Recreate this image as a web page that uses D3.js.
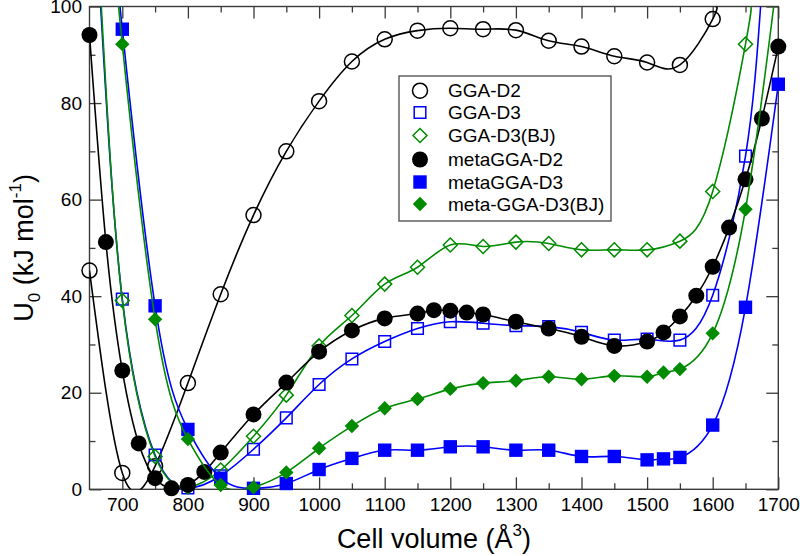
<!DOCTYPE html>
<html>
<head>
<meta charset="utf-8">
<script src="https://cdn.jsdelivr.net/npm/d3@7"></script>
<style>
  html, body { margin: 0; padding: 0; background: #fff; }
  svg { display: block; font-family: "Liberation Sans", Arial, Helvetica, sans-serif; }
</style>
</head>
<body>
<svg id="chart" width="800" height="556"></svg>
<script>
// ---------------- DATA ----------------
const seriesNames = ["GGA-D2", "GGA-D3", "GGA-D3(BJ)", "metaGGA-D2", "metaGGA-D3", "meta-GGA-D3(BJ)"];

const ggaD2Vol = [650,700,750,800,850,900,950,1000,1050,1100,1150,1200,1250,1300,1350,1400,1450,1500,1550,1600];
const ggaD2U   = [45.3,3.4,4.8,22.0,40.4,56.8,70.0,80.4,88.6,93.2,95.0,95.5,95.3,95.1,92.9,91.7,89.7,88.4,87.9,97.4];

const ggaD3Vol = [700,750,800,850,900,950,1000,1050,1100,1150,1200,1250,1300,1350,1400,1450,1500,1550,1600,1650];
const ggaD3U   = [39.4,7.1,0.3,2.8,8.3,14.8,21.7,27.0,30.6,33.3,34.7,34.4,33.9,33.7,32.5,30.9,31.1,30.9,40.2,69.0];

const ggaD3BJVol = [700,750,800,850,900,950,1000,1050,1100,1150,1200,1250,1300,1350,1400,1450,1500,1550,1600,1650];
const ggaD3BJU   = [39.1,6.8,0.5,4.0,11.0,19.5,29.7,36.0,42.5,46.0,50.6,50.3,51.2,50.9,49.6,49.6,49.6,51.4,61.7,92.2];

const metaD2Vol = [650,675,700,725,750,775,800,825,850,900,950,1000,1050,1100,1150,1175,1200,1225,1250,1300,1350,1400,1450,1500,1525,1550,1575,1600,1625,1650,1675,1700];
const metaD2U   = [94.1,51.2,24.6,9.5,2.3,0.2,0.9,3.6,7.6,15.5,22.1,28.5,32.9,35.4,36.4,37.1,37.0,36.6,36.2,34.7,33.3,31.6,29.7,30.6,32.5,35.8,40.1,46.1,54.2,64.2,76.8,91.7];

const metaD3Vol = [700,750,800,850,900,950,1000,1050,1100,1150,1200,1250,1300,1350,1400,1450,1500,1525,1550,1600,1650,1700];
const metaD3U   = [95.3,38.0,12.4,2.3,0.2,1.2,4.1,6.4,8.1,8.1,8.8,8.8,8.1,8.1,6.8,6.8,6.1,6.3,6.6,13.3,37.7,83.9];

const metaD3BJVol = [700,750,800,850,900,950,1000,1050,1100,1150,1200,1250,1300,1350,1400,1450,1500,1525,1550,1600,1650];
const metaD3BJU   = [92.2,35.2,10.4,0.9,0.4,3.5,8.5,13.1,16.8,18.7,20.8,22.0,22.5,23.3,22.8,23.5,23.3,24.2,24.9,32.3,58.0];

// volumes where each fitted curve leaves the plot through the top edge (start, end); null = none
const ggaD2FitEnds    = [null, 1604];
const ggaD3FitEnds    = [667, 1673];
const ggaD3BJFitEnds  = [668, 1658];
const metaD2FitEnds   = [null, null];
const metaD3FitEnds   = [697, null];
const metaD3BJFitEnds = [696, 1693];

const xMajorTicks = [700,800,900,1000,1100,1200,1300,1400,1500,1600,1700];
const xMinorTicks = [750,850,950,1050,1150,1250,1350,1450,1550,1650];
const yMajorTicks = [0,20,40,60,80,100];
const yMinorTicks = [10,30,50,70,90];

// ---------------- CHART ----------------
const GREEN = "#008b00", BLUE = "#0000ff", BLACK = "#000000";
const series = [
  {name: seriesNames[0], vol: ggaD2Vol,    u: ggaD2U,    ends: ggaD2FitEnds,    color: BLACK, shape: "circle",  filled: false},
  {name: seriesNames[1], vol: ggaD3Vol,    u: ggaD3U,    ends: ggaD3FitEnds,    color: BLUE,  shape: "square",  filled: false},
  {name: seriesNames[2], vol: ggaD3BJVol,  u: ggaD3BJU,  ends: ggaD3BJFitEnds,  color: GREEN, shape: "diamond", filled: false},
  {name: seriesNames[3], vol: metaD2Vol,   u: metaD2U,   ends: metaD2FitEnds,   color: BLACK, shape: "circle",  filled: true},
  {name: seriesNames[4], vol: metaD3Vol,   u: metaD3U,   ends: metaD3FitEnds,   color: BLUE,  shape: "square",  filled: true},
  {name: seriesNames[5], vol: metaD3BJVol, u: metaD3BJU, ends: metaD3BJFitEnds, color: GREEN, shape: "diamond", filled: true}
];

const svg = d3.select("#chart");
const X0 = 89.5, X1 = 778.3, Y0 = 6.5, Y1 = 489.3;
const x = d3.scaleLinear().domain([650, 1700]).range([X0, X1]);
const y = d3.scaleLinear().domain([0, 100]).range([Y1, Y0]);

svg.append("defs").append("clipPath").attr("id", "plotclip")
  .append("rect").attr("x", X0).attr("y", Y0).attr("width", X1 - X0).attr("height", Y1 - Y0);

// axes (ticks inward)
function styleAxis(g) {
  g.select(".domain").remove();
  g.selectAll(".tick line").attr("stroke", "#3a3a3a").attr("stroke-width", 1.3);
  g.selectAll(".tick text").attr("fill", "#000").attr("font-size", 19)
    .attr("font-family", '"Liberation Sans", Arial, sans-serif');
}
svg.append("g").attr("transform", `translate(0,${Y1})`)
  .call(d3.axisBottom(x).tickValues(xMajorTicks).tickSize(-12).tickPadding(8).tickFormat(d3.format("d")))
  .call(styleAxis);
svg.append("g").attr("transform", `translate(0,${Y1})`)
  .call(d3.axisBottom(x).tickValues(xMinorTicks).tickSize(-6).tickFormat(""))
  .call(styleAxis);
svg.append("g").attr("transform", `translate(0,${Y0})`)
  .call(d3.axisTop(x).tickValues(xMajorTicks).tickSize(-12).tickFormat(""))
  .call(styleAxis);
svg.append("g").attr("transform", `translate(0,${Y0})`)
  .call(d3.axisTop(x).tickValues(xMinorTicks).tickSize(-6).tickFormat(""))
  .call(styleAxis);
svg.append("g").attr("transform", `translate(${X0},0)`)
  .call(d3.axisLeft(y).tickValues(yMajorTicks).tickSize(-12).tickPadding(7.5).tickFormat(d3.format("d")))
  .call(styleAxis);
svg.append("g").attr("transform", `translate(${X0},0)`)
  .call(d3.axisLeft(y).tickValues(yMinorTicks).tickSize(-6).tickFormat(""))
  .call(styleAxis);
svg.append("g").attr("transform", `translate(${X1},0)`)
  .call(d3.axisRight(y).tickValues(yMajorTicks).tickSize(-12).tickFormat(""))
  .call(styleAxis);
svg.append("g").attr("transform", `translate(${X1},0)`)
  .call(d3.axisRight(y).tickValues(yMinorTicks).tickSize(-6).tickFormat(""))
  .call(styleAxis);

svg.append("rect").attr("x", X0).attr("y", Y0).attr("width", X1 - X0).attr("height", Y1 - Y0)
  .attr("fill", "none").attr("stroke", "#3a3a3a").attr("stroke-width", 1.4);

// markers
function markerPath(shape, filled) {
  if (shape === "circle") {
    const r = filled ? 8 : 7.5;
    return `M${-r},0A${r},${r} 0 1,0 ${r},0A${r},${r} 0 1,0 ${-r},0Z`;
  }
  if (shape === "square") {
    const h = filled ? 6.7 : 5.8;
    return `M${-h},${-h}H${h}V${h}H${-h}Z`;
  }
  const d = filled ? 7.2 : 7;
  return `M0,${-d}L${d},0L0,${d}L${-d},0Z`;
}

const line = d3.line().x(p => x(p[0])).y(p => y(p[1])).curve(d3.curveNatural);

series.forEach(s => {
  const pts = s.vol.map((v, i) => [v, s.u[i]]);
  const linePts = [];
  if (s.ends[0] != null) linePts.push([s.ends[0], 100]);
  pts.forEach(p => linePts.push(p));
  if (s.ends[1] != null) linePts.push([s.ends[1], 100]);

  svg.append("path").datum(linePts)
    .attr("clip-path", "url(#plotclip)")
    .attr("d", line).attr("fill", "none")
    .attr("stroke", s.color).attr("stroke-width", 1.6);

  svg.append("g").selectAll("path").data(pts).join("path")
    .attr("transform", p => `translate(${x(p[0])},${y(p[1])})`)
    .attr("d", markerPath(s.shape, s.filled))
    .attr("fill", s.filled ? s.color : "none")
    .attr("stroke", s.color).attr("stroke-width", s.filled ? 0 : 1.5);
});

// legend
const leg = svg.append("g");
leg.append("rect").attr("x", 399).attr("y", 76).attr("width", 212).attr("height", 145)
  .attr("fill", "#fff").attr("stroke", "#555").attr("stroke-width", 1.4);
const legRows = [90.7, 112.5, 135.5, 159.5, 182, 204];
series.forEach((s, i) => {
  leg.append("path").attr("transform", `translate(420,${legRows[i]})`)
    .attr("d", markerPath(s.shape, s.filled))
    .attr("fill", s.filled ? s.color : "none")
    .attr("stroke", s.color).attr("stroke-width", s.filled ? 0 : 1.5);
  leg.append("text").attr("x", 448).attr("y", legRows[i]).attr("dy", "0.35em")
    .attr("font-size", 19).attr("fill", "#000").text(s.name);
});

// axis titles
const xt = svg.append("text").attr("x", (X0 + X1) / 2).attr("y", 548)
  .attr("text-anchor", "middle").attr("font-size", 27).attr("fill", "#000");
xt.append("tspan").text("Cell volume (Å");
xt.append("tspan").attr("font-size", 17).attr("dy", -12).text("3");
xt.append("tspan").attr("dy", 12).text(")");

const yt = svg.append("text").attr("transform", `translate(33,${(Y0 + Y1) / 2}) rotate(-90)`)
  .attr("text-anchor", "middle").attr("font-size", 27).attr("fill", "#000");
yt.append("tspan").text("U");
yt.append("tspan").attr("font-size", 17).attr("dy", 7).text("0");
yt.append("tspan").attr("dy", -7).text(" (kJ mol");
yt.append("tspan").attr("font-size", 17).attr("dy", -12).text("-1");
yt.append("tspan").attr("dy", 12).text(")");
</script>
</body>
</html>
